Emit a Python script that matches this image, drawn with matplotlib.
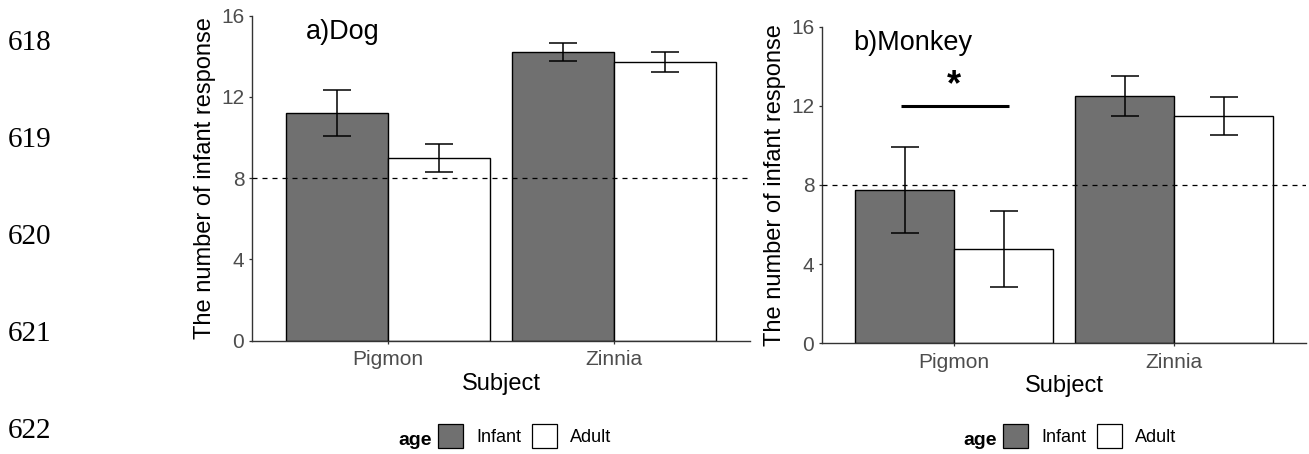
import matplotlib.pyplot as plt
from matplotlib.patches import Patch

plt.rcParams['font.family'] = ['Liberation Sans', 'DejaVu Sans']

subjects = ['Pigmon', 'Zinnia']
groups = ['Infant', 'Adult']

dog_infant = [11.2, 14.2]
dog_infant_se = [1.13, 0.45]
dog_adult = [9.0, 13.7]
dog_adult_se = [0.7, 0.48]

monkey_infant = [7.75, 12.5]
monkey_infant_se = [2.18, 1.0]
monkey_adult = [4.75, 11.5]
monkey_adult_se = [1.92, 0.96]

chance_level = 8
yticks = [0, 4, 8, 12, 16]
line_numbers = ['618', '619', '620', '621', '622']

INFANT = '#707070'
AXCOL = '#333333'
TICKCOL = '#4d4d4d'
W, H = 1309, 454


def draw_panel(ax, infant, infant_se, adult, adult_se, title, tx):
    xs = range(1, len(subjects) + 1)
    for vals, se, off, col in [(infant, infant_se, -0.225, INFANT),
                               (adult, adult_se, 0.225, 'white')]:
        pos = [x + off for x in xs]
        ax.bar(pos, vals, width=0.45, color=col, edgecolor='black',
               linewidth=1.0, zorder=2)
        ax.errorbar(pos, vals, yerr=se, fmt='none', ecolor='black',
                    elinewidth=1.1, capsize=10, capthick=1.1, zorder=3)
    ax.axhline(chance_level, color='black', lw=0.9, ls=(0, (4, 4)), zorder=4)
    ax.set_xlim(0.4, 2.6)
    ax.set_ylim(0, 16)
    ax.set_xticks(list(xs))
    ax.set_xticklabels(subjects)
    ax.set_yticks(yticks)
    ax.tick_params(colors=AXCOL, labelcolor=TICKCOL, labelsize=15,
                   length=2.5, width=0.9, pad=3)
    ax.tick_params(axis='x', pad=4.5)
    for s in ['top', 'right']:
        ax.spines[s].set_visible(False)
    for s in ['left', 'bottom']:
        ax.spines[s].set_color(AXCOL)
        ax.spines[s].set_linewidth(1.0)
    ax.set_xlabel('Subject', fontsize=17, labelpad=2.5)
    ax.set_ylabel('The number of infant response', fontsize=17, labelpad=4)
    ax.text(tx, 14.82, title, fontsize=19.5, ha='left', va='baseline')


fig = plt.figure(figsize=(W / 100, H / 100), dpi=100)

ax1 = fig.add_axes([252 / W, 1 - 340.7 / H, 498 / W, 325.2 / H])
draw_panel(ax1, dog_infant, dog_infant_se, dog_adult, dog_adult_se,
           'a)Dog', 0.637)

ax2 = fig.add_axes([822 / W, 1 - 343.3 / H, 484 / W, 316.6 / H])
draw_panel(ax2, monkey_infant, monkey_infant_se, monkey_adult, monkey_adult_se,
           'b)Monkey', 0.541)

# significance marker between Pigmon infant and adult (monkey)
ax2.plot([0.758, 1.25], [12, 12], color='black', lw=2.2, solid_capstyle='butt')
ax2.text(1.0, 12.55, '*', fontsize=26, fontweight='bold', ha='center',
         va='baseline')

# legends under each panel
handles = [Patch(facecolor=INFANT, edgecolor='black', lw=0.9),
           Patch(facecolor='white', edgecolor='black', lw=0.9)]
for box_left, age_left in [(438, 398), (1003, 963)]:
    fig.legend(handles, groups, loc='center left', ncol=2, frameon=False,
               bbox_to_anchor=(box_left / W, 1 - 436 / H),
               bbox_transform=fig.transFigure, fontsize=13,
               handlelength=1.4, handleheight=1.75, handletextpad=0.7,
               columnspacing=0.6, borderpad=0, borderaxespad=0)
    fig.text(age_left / W, 1 - 445 / H, 'age', fontsize=14, fontweight='bold',
             ha='left', va='baseline')

# manuscript line numbers
for i, num in enumerate(line_numbers):
    fig.text(8 / W, 1 - (43 + 97 * i) / H, num, fontsize=21,
             family=['Liberation Serif', 'DejaVu Serif'], ha='left', va='center')

fig.savefig('out.png', dpi=100)
